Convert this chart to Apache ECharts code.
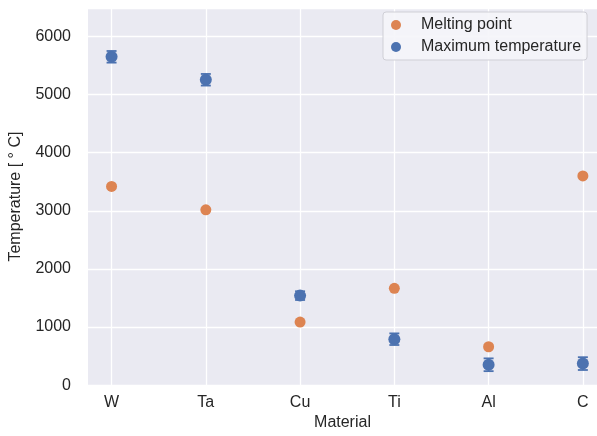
<!DOCTYPE html>
<html>
<head>
<meta charset="utf-8">
<script src="https://cdn.jsdelivr.net/npm/echarts@6/dist/echarts.min.js"></script>
<style>
  html, body { margin: 0; padding: 0; background: #fff; }
  #chart { width: 597px; height: 436px; }
</style>
</head>
<body>
<div id="chart"></div>
<script>
// materials on the x axis
var materials = ["W", "Ta", "Cu", "Ti", "Al", "C"];
// melting points (°C)
var meltingPoint = [3420, 3017, 1085, 1665, 660, 3600];
// maximum temperature (°C) and its error
var maxTemp = [5650, 5255, 1540, 790, 350, 370];
var maxTempErr = [100, 100, 75, 100, 110, 110];
var yTicks = [0, 1000, 2000, 3000, 4000, 5000, 6000];

var blue = "#4C72B0";
var orange = "#DD8452";
var textColor = "#262626";
var font = "Liberation Sans";

var meltData = materials.map(function (m, i) { return [i, meltingPoint[i]]; });
var maxData = materials.map(function (m, i) { return [i, maxTemp[i]]; });
var errData = materials.map(function (m, i) {
  return [i, maxTemp[i] - maxTempErr[i], maxTemp[i] + maxTempErr[i]];
});

var chart = echarts.init(document.getElementById("chart"));
chart.setOption({
  animation: false,
  textStyle: { fontFamily: font },
  grid: {
    left: 88, top: 8, bottom: 41, right: 0,
    backgroundColor: "#EAEAF2", show: true, borderWidth: 0
  },
  legend: {
    data: [
      { name: "Melting point", icon: "circle" },
      { name: "Maximum temperature", icon: "circle" }
    ],
    orient: "vertical",
    left: 383, top: 12,
    itemWidth: 10, itemHeight: 10, itemGap: 6,
    padding: [5, 6, 5, 8],
    backgroundColor: "rgba(245,245,249,0.9)",
    borderColor: "#cfcfd6", borderWidth: 1, borderRadius: 3,
    textStyle: { fontFamily: font, fontSize: 16, color: textColor, padding: [0, 0, 0, 15] }
  },
  xAxis: {
    type: "value",
    min: -0.25, max: 5.15,
    name: "Material",
    nameLocation: "middle",
    nameGap: 25,
    nameTextStyle: { fontFamily: font, fontSize: 16, color: textColor },
    axisLine: { show: false },
    axisTick: { show: false, customValues: [0, 1, 2, 3, 4, 5] },
    axisLabel: {
      customValues: [0, 1, 2, 3, 4, 5],
      margin: 9,
      fontFamily: font, fontSize: 16, color: textColor,
      formatter: function (v) { return materials[Math.round(v)]; }
    },
    splitLine: { show: true, lineStyle: { color: "#fff", width: 1.3 } }
  },
  yAxis: {
    type: "value",
    min: 0, max: 6490, interval: 1000,
    name: "Temperature [ ° C]",
    nameLocation: "middle",
    nameGap: 64,
    nameTextStyle: { fontFamily: font, fontSize: 16, color: textColor },
    axisLine: { show: false },
    axisTick: { show: false },
    axisLabel: {
      showMaxLabel: false,
      margin: 17,
      fontFamily: font, fontSize: 16, color: textColor,
      formatter: function (v) { return yTicks.indexOf(v) >= 0 ? String(v) : ""; }
    },
    splitLine: { show: true, lineStyle: { color: "#fff", width: 1.3 } }
  },
  series: [
    {
      name: "Melting point",
      type: "scatter",
      data: meltData,
      symbol: "circle",
      symbolSize: 11,
      itemStyle: { color: orange, opacity: 1 },
      z: 3
    },
    {
      name: "Maximum temperature",
      type: "custom",
      data: errData,
      renderItem: function (params, api) {
        var x = api.value(0);
        var lo = api.coord([x, api.value(1)]);
        var hi = api.coord([x, api.value(2)]);
        var cap = 5;
        var style = { stroke: blue, lineWidth: 1.8 };
        return {
          type: "group",
          children: [
            { type: "line", shape: { x1: lo[0], y1: lo[1], x2: hi[0], y2: hi[1] }, style: style },
            { type: "line", shape: { x1: lo[0] - cap, y1: lo[1], x2: lo[0] + cap, y2: lo[1] }, style: style },
            { type: "line", shape: { x1: hi[0] - cap, y1: hi[1], x2: hi[0] + cap, y2: hi[1] }, style: style }
          ]
        };
      },
      itemStyle: { color: blue },
      z: 3
    },
    {
      name: "Maximum temperature",
      type: "scatter",
      data: maxData,
      symbol: "circle",
      symbolSize: 12,
      itemStyle: { color: blue, opacity: 1 },
      z: 4
    }
  ]
});
</script>
</body>
</html>
